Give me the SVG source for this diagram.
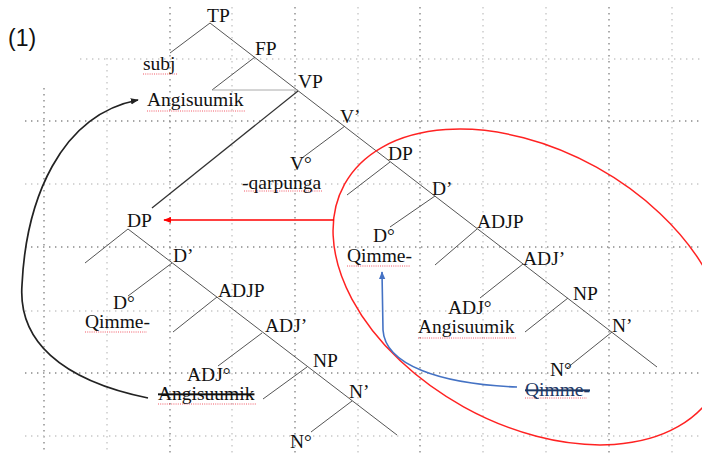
<svg xmlns="http://www.w3.org/2000/svg" width="702" height="454" viewBox="0 0 702 454">
<style>
.g1{stroke:#8a8a8a;stroke-width:1.4;stroke-dasharray:1.4 4.6;fill:none}
.g2{stroke:#c8c8c8;stroke-width:1.4;stroke-dasharray:1.4 4.6;fill:none}
.br{stroke:#555;stroke-width:1;fill:none}
.lb{font-size:19.5px;fill:#111}
.sq{stroke:#e23;stroke-width:1;stroke-dasharray:1 1.2;fill:none;opacity:0.75}
.strike{text-decoration:line-through}
</style>
<defs>
<marker id="ahK" viewBox="0 0 10 10" refX="9" refY="5" markerWidth="8" markerHeight="8" orient="auto" markerUnits="userSpaceOnUse"><path d="M0,1 L10,5 L0,9 z" fill="#222"/></marker>
<marker id="ahR" viewBox="0 0 10 10" refX="9" refY="5" markerWidth="8" markerHeight="8" orient="auto" markerUnits="userSpaceOnUse"><path d="M0,1 L10,5 L0,9 z" fill="#f00"/></marker>
<marker id="ahB" viewBox="0 0 10 10" refX="9" refY="5" markerWidth="8" markerHeight="8" orient="auto" markerUnits="userSpaceOnUse"><path d="M0,1 L10,5 L0,9 z" fill="#4472c4"/></marker>
</defs>
<rect width="702" height="454" fill="#fff"/>
<g id="grid">
<line class="g1" x1="44" y1="88" x2="44" y2="454"/>
<line class="g2" x1="107" y1="58" x2="107" y2="454"/>
<line class="g1" x1="170" y1="7" x2="170" y2="454"/>
<line class="g2" x1="232" y1="7" x2="232" y2="454"/>
<line class="g1" x1="295" y1="7" x2="295" y2="454"/>
<line class="g2" x1="358" y1="7" x2="358" y2="454"/>
<line class="g1" x1="420" y1="7" x2="420" y2="454"/>
<line class="g2" x1="483" y1="7" x2="483" y2="454"/>
<line class="g2" x1="546" y1="7" x2="546" y2="454"/>
<line class="g1" x1="609" y1="7" x2="609" y2="454"/>
<line class="g2" x1="672" y1="7" x2="672" y2="454"/>
<line class="g2" x1="80" y1="59" x2="702" y2="59"/>
<line class="g1" x1="25" y1="121" x2="702" y2="121"/>
<line class="g2" x1="25" y1="184" x2="702" y2="184"/>
<line class="g1" x1="25" y1="247" x2="702" y2="247"/>
<line class="g2" x1="25" y1="311" x2="702" y2="311"/>
<line class="g1" x1="25" y1="373" x2="702" y2="373"/>
<line class="g2" x1="25" y1="436" x2="702" y2="436"/>
</g>
<text x="8" y="46" font-family="Liberation Sans, sans-serif" font-size="23" fill="#111">(1)</text>
<g id="branches">
<line class="br" x1="210" y1="23" x2="657" y2="367"/>
<line class="br" x1="210" y1="23" x2="170" y2="53"/>
<line class="br" x1="255" y1="57" x2="212" y2="90"/>
<line x1="212" y1="90" x2="298" y2="90" stroke="#aaa" stroke-width="1"/>
<line x1="298" y1="91" x2="152" y2="208" stroke="#333" stroke-width="1.3"/>
<line class="br" x1="345" y1="126" x2="302" y2="158"/>
<line class="br" x1="390" y1="162" x2="347" y2="195"/>
<line class="br" x1="435" y1="196" x2="390" y2="227"/>
<line class="br" x1="477" y1="229" x2="435" y2="265"/>
<line class="br" x1="523" y1="264" x2="480" y2="298"/>
<line class="br" x1="568" y1="298" x2="525" y2="332"/>
<line class="br" x1="612" y1="332" x2="567" y2="368"/>
<line class="br" x1="128" y1="229" x2="397" y2="435"/>
<line class="br" x1="128" y1="229" x2="85" y2="263"/>
<line class="br" x1="172" y1="263" x2="128" y2="296"/>
<line class="br" x1="217" y1="297" x2="173" y2="332"/>
<line class="br" x1="262" y1="333" x2="218" y2="366"/>
<line class="br" x1="307" y1="367" x2="263" y2="399"/>
<line class="br" x1="352" y1="401" x2="311" y2="432"/>
</g>
<g id="squiggles">
<line class="sq" x1="143" y1="74" x2="177" y2="74"/>
<line class="sq" x1="147" y1="111" x2="245" y2="111"/>
<line class="sq" x1="244" y1="191" x2="322" y2="191"/>
<line class="sq" x1="347" y1="266" x2="410" y2="266"/>
<line class="sq" x1="85" y1="332" x2="147" y2="332"/>
<line class="sq" x1="418" y1="338" x2="517" y2="338"/>
<line class="sq" x1="158" y1="404" x2="257" y2="404"/>
<line class="sq" x1="525" y1="398" x2="587" y2="398"/>
</g>
<g font-family="Liberation Serif, Times New Roman, serif">
<g id="n-TP"><text class="lb" x="207" y="22">TP</text></g>
<g id="n-subj"><text class="lb" x="143" y="70">subj</text></g>
<g id="n-FP"><text class="lb" x="255" y="55">FP</text></g>
<g id="n-Angisuumik-top"><text class="lb" x="147" y="106">Angisuumik</text></g>
<g id="n-VP"><text class="lb" x="298" y="88">VP</text></g>
<g id="n-Vbar"><text class="lb" x="340" y="123">V’</text></g>
<g id="n-V0"><text class="lb" x="290" y="170">V°</text><text class="lb" x="242" y="189">-qarpunga</text></g>
<g id="n-DP-in"><text class="lb" x="388" y="160">DP</text></g>
<g id="n-Dbar-in"><text class="lb" x="432" y="195">D’</text></g>
<g id="n-D0-in"><text class="lb" x="373" y="242">D°</text><text class="lb" x="347" y="262">Qimme-</text></g>
<g id="n-ADJP-in"><text class="lb" x="477" y="228">ADJP</text></g>
<g id="n-ADJbar-in"><text class="lb" x="523" y="265">ADJ’</text></g>
<g id="n-ADJ0-in"><text class="lb" x="448" y="314">ADJ°</text><text class="lb" x="418" y="333">Angisuumik</text></g>
<g id="n-NP-in"><text class="lb" x="573" y="300">NP</text></g>
<g id="n-Nbar-in"><text class="lb" x="612" y="332">N’</text></g>
<g id="n-N0-in"><text class="lb" x="550" y="376">N°</text><text class="lb strike" x="525" y="396" style="fill:#1f3864">Qimme-</text></g>
<g id="n-DP-out"><text class="lb" x="127" y="227">DP</text></g>
<g id="n-Dbar-out"><text class="lb" x="173" y="262">D’</text></g>
<g id="n-D0-out"><text class="lb" x="113" y="309">D°</text><text class="lb" x="85" y="328">Qimme-</text></g>
<g id="n-ADJP-out"><text class="lb" x="218" y="297">ADJP</text></g>
<g id="n-ADJbar-out"><text class="lb" x="265" y="332">ADJ’</text></g>
<g id="n-ADJ0-out"><text class="lb" x="187" y="381">ADJ°</text><text class="lb strike" x="158" y="400">Angisuumik</text></g>
<g id="n-NP-out"><text class="lb" x="313" y="367">NP</text></g>
<g id="n-Nbar-out"><text class="lb" x="349" y="398">N’</text></g>
<g id="n-N0-out"><text class="lb" x="290" y="448">N°</text></g>
</g>
<g id="connectors">
<ellipse cx="530" cy="287" rx="212" ry="137" transform="rotate(29 530 287)" fill="none" stroke="#f22" stroke-width="1.5"/>
<line x1="334" y1="220" x2="164" y2="220" stroke="#f00" stroke-width="1.5" marker-end="url(#ahR)"/>
<path d="M148,398 C60,380 18,340 22,285 C26,200 60,115 138,100" fill="none" stroke="#222" stroke-width="1.7" marker-end="url(#ahK)"/>
<path d="M517,387 C440,384 385,365 383,330 L382,272" fill="none" stroke="#4472c4" stroke-width="1.6" marker-end="url(#ahB)"/>
</g>
</svg>
